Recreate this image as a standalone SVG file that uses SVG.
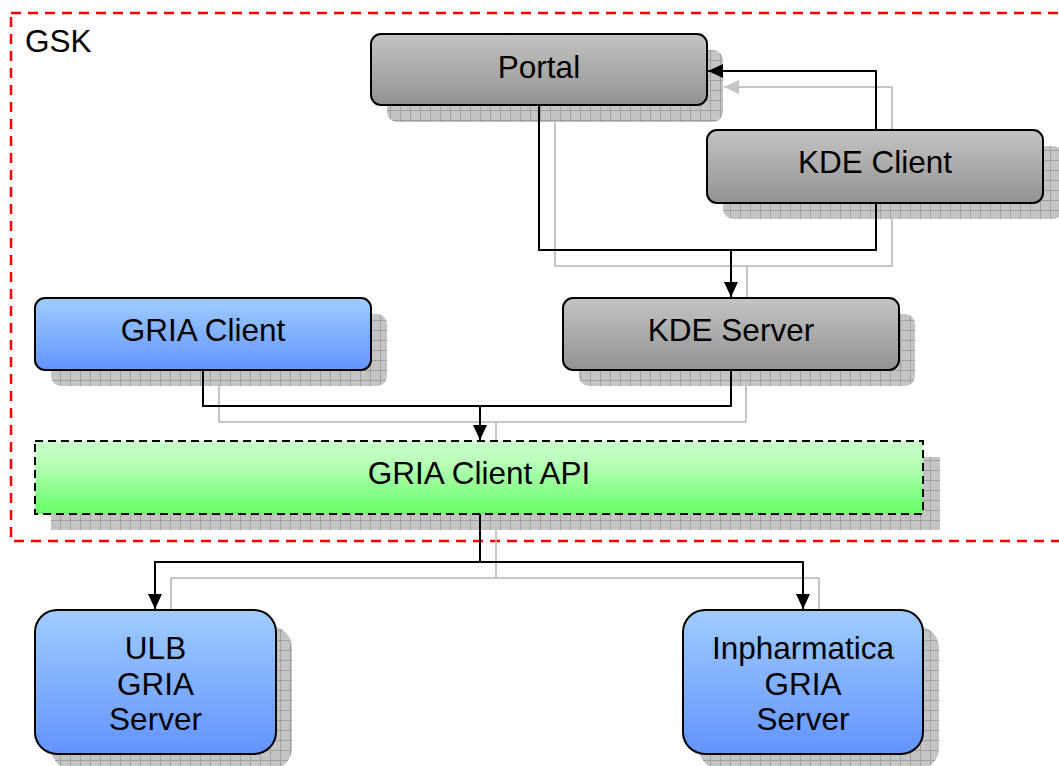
<svg xmlns="http://www.w3.org/2000/svg" width="1059" height="766" viewBox="0 0 1059 766">
<defs>
<linearGradient id="gGray" x1="0" y1="0" x2="0" y2="1"><stop offset="0" stop-color="#c4c4c4"/><stop offset="1" stop-color="#929292"/></linearGradient>
<linearGradient id="gBlue" x1="0" y1="0" x2="0" y2="1"><stop offset="0" stop-color="#9fcdff"/><stop offset="1" stop-color="#6393ff"/></linearGradient>
<linearGradient id="gGreen" x1="0" y1="0" x2="0" y2="1"><stop offset="0" stop-color="#ccffcc"/><stop offset="0.3" stop-color="#b8ffb8"/><stop offset="1" stop-color="#66ff66"/></linearGradient>
<pattern id="grid" width="10" height="10" patternUnits="userSpaceOnUse"><rect width="10" height="10" fill="#c4c4c4"/><path d="M0,0.5H10M0.5,0V10" stroke="#a0a0a0" stroke-width="1"/></pattern>
<marker id="arr" markerUnits="userSpaceOnUse" markerWidth="16" markerHeight="14" refX="15" refY="7" orient="auto"><path d="M0,0L15,7L0,14Z" fill="#000"/></marker>
<marker id="arrG" markerUnits="userSpaceOnUse" markerWidth="16" markerHeight="14" refX="15" refY="7" orient="auto"><path d="M0,0L15,7L0,14Z" fill="#c4c4c4"/></marker>
</defs>
<style>
.sh{fill:url(#grid)}
.box{stroke:#000;stroke-width:2}
.gray{fill:url(#gGray)}
.blue{fill:url(#gBlue)}
.t{font-family:"Liberation Sans",Arial,sans-serif;font-size:31.5px;fill:#000;text-anchor:middle}
.c{fill:none;stroke:#000;stroke-width:2}
.cs{fill:none;stroke:#b4b4b4;stroke-width:1.5}
</style>
<rect width="1059" height="766" fill="#fff"/>
<g id="gsk">
<rect x="11" y="13" width="1060" height="528" fill="none" stroke="#ff0000" stroke-width="2.5" stroke-dasharray="10,7"/>
<text class="t" x="25" y="52" style="text-anchor:start">GSK</text>
</g>
<g id="connector-shadows">
<path class="cs" d="M892,146V87H724" marker-end="url(#arrG)"/>
<path class="cs" d="M555,121V266H892V219M747,266V314"/>
<path class="cs" d="M219,386V422H746V386M496,422V457"/>
<path class="cs" d="M496,530V578M171,626V578H819V626"/>
</g>
<g id="portal">
<rect class="sh" x="387" y="50" width="336" height="72" rx="10"/>
<rect class="box gray" x="371" y="34" width="336" height="71" rx="10"/>
<text class="t" x="539" y="78">Portal</text>
</g>
<g id="kde-client">
<rect class="sh" x="723" y="146" width="340" height="73" rx="10"/>
<rect class="box gray" x="707" y="130" width="336" height="73" rx="10"/>
<text class="t" x="875" y="173">KDE Client</text>
</g>
<g id="gria-client">
<rect class="sh" x="51" y="314" width="336" height="72" rx="10"/>
<rect class="box blue" x="35" y="298" width="336" height="72" rx="10"/>
<text class="t" x="203" y="341">GRIA Client</text>
</g>
<g id="kde-server">
<rect class="sh" x="579" y="314" width="336" height="72" rx="10"/>
<rect class="box gray" x="563" y="298" width="336" height="72" rx="10"/>
<text class="t" x="731" y="341">KDE Server</text>
</g>
<g id="gria-client-api">
<rect class="sh" x="51" y="457" width="889" height="73"/>
<rect x="35" y="441" width="888" height="73" fill="url(#gGreen)" stroke="#000" stroke-width="2" stroke-dasharray="8,5"/>
<text class="t" x="479" y="484">GRIA Client API</text>
</g>
<g id="ulb-gria-server">
<rect class="sh" x="51" y="626" width="241" height="144" rx="22"/>
<rect class="box blue" x="35" y="610" width="241" height="144" rx="22"/>
<text class="t" x="155.5" y="659">ULB</text>
<text class="t" x="155.5" y="695">GRIA</text>
<text class="t" x="155.5" y="730">Server</text>
</g>
<g id="inpharmatica-gria-server">
<rect class="sh" x="699" y="626" width="240" height="144" rx="22"/>
<rect class="box blue" x="683" y="610" width="240" height="144" rx="22"/>
<text class="t" x="803" y="659">Inpharmatica</text>
<text class="t" x="803" y="695">GRIA</text>
<text class="t" x="803" y="730">Server</text>
</g>
<g id="connectors">
<path class="c" d="M876,130V71H708" marker-end="url(#arr)"/>
<path class="c" d="M539,105V250H876V203"/>
<path class="c" d="M731,250V297" marker-end="url(#arr)"/>
<path class="c" d="M203,370V406H731V370"/>
<path class="c" d="M480,406V440" marker-end="url(#arr)"/>
<path class="c" d="M480,514V562"/>
<path class="c" d="M480,562H155V609" marker-end="url(#arr)"/>
<path class="c" d="M480,562H803V609" marker-end="url(#arr)"/>
</g>
</svg>
